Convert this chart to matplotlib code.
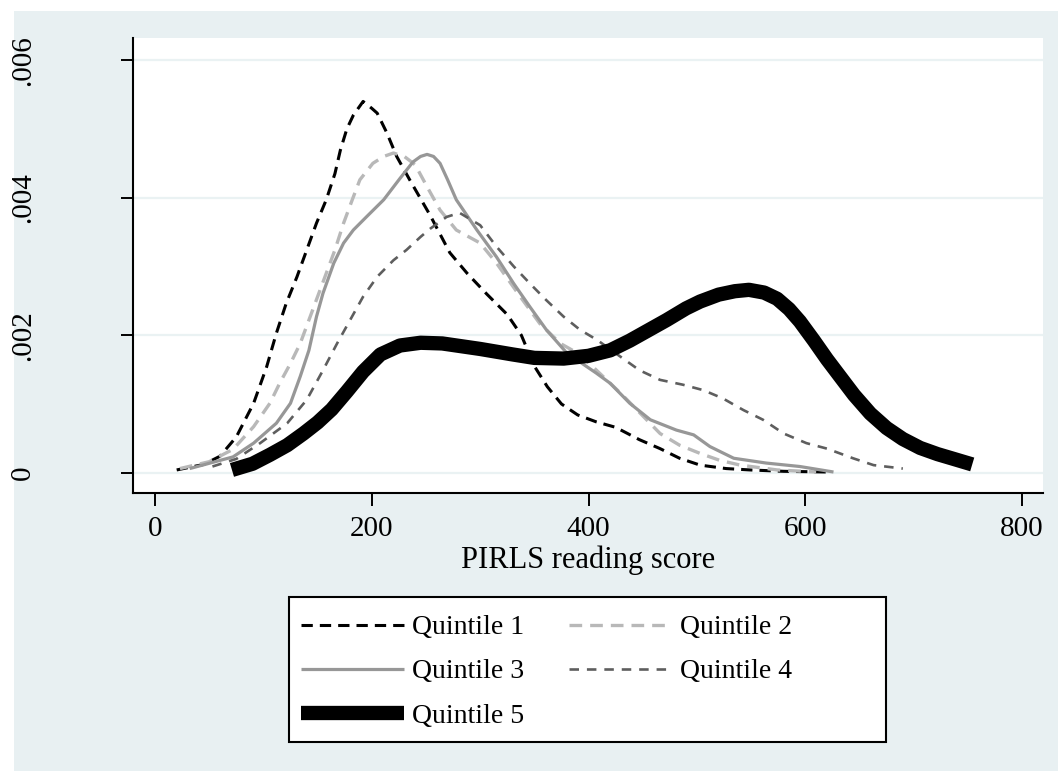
import matplotlib
matplotlib.use("Agg")
import matplotlib.pyplot as plt
from matplotlib.patches import Rectangle
from matplotlib.lines import Line2D

# ---------------- data ----------------
q1_x = [20, 45, 60, 75, 91, 103, 112, 121, 131, 140, 149, 158, 166, 171, 177, 183, 192,
        200, 205, 214, 223, 235, 254, 272, 288, 306, 325, 338, 350, 362, 375, 390, 407,
        425, 447, 466, 484, 503, 527, 549, 580, 620]
q1_y = [0.00004, 0.00012, 0.00024, 0.00052, 0.00101, 0.00154, 0.00203, 0.00246, 0.00285,
        0.00324, 0.00363, 0.00397, 0.00435, 0.00469, 0.0050, 0.0052, 0.0054, 0.0053,
        0.00523, 0.00494, 0.0046, 0.00426, 0.00374, 0.0032, 0.0029, 0.0026, 0.0023,
        0.0020, 0.00155, 0.00125, 0.0010, 0.00084, 0.00074, 0.00066, 0.00048, 0.00035,
        0.00021, 0.00011, 0.00006, 0.00004, 0.00002, 0.00001]

q2_x = [23, 50, 72, 91, 106, 115, 125, 134, 150, 166, 174, 182, 189, 201, 211, 220, 230,
        240, 251, 263, 278, 300, 315, 337, 355, 374, 392, 410, 430, 448, 466, 484, 503,
        521, 540, 574, 610]
q2_y = [0.00006, 0.00016, 0.00034, 0.00067, 0.00101, 0.0013, 0.00159, 0.00188, 0.00256,
        0.00324, 0.00363, 0.00397, 0.00426, 0.0045, 0.0046, 0.00465, 0.0046, 0.00448,
        0.00416, 0.00382, 0.00353, 0.00334, 0.00305, 0.00256, 0.00217, 0.00188, 0.00172,
        0.00145, 0.00115, 0.00086, 0.00057, 0.0004, 0.00028, 0.00018, 0.00011, 0.00004,
        0.00001]

q3_x = [32, 72, 91, 112, 125, 134, 142, 149, 155, 165, 174, 183, 195, 211, 226, 238, 245,
        251, 257, 263, 270, 278, 297, 315, 331, 346, 361, 380, 407, 420, 438, 457, 481,
        497, 512, 534, 564, 595, 626]
q3_y = [0.00006, 0.00023, 0.00043, 0.00072, 0.00101, 0.0014, 0.00178, 0.00227, 0.00261,
        0.00305, 0.00334, 0.00353, 0.00372, 0.00397, 0.00428, 0.00452, 0.0046, 0.00463,
        0.0046, 0.0045, 0.00426, 0.00397, 0.00353, 0.00314, 0.00275, 0.00241, 0.00208,
        0.00174, 0.00145, 0.0013, 0.00101, 0.00077, 0.00062, 0.00055, 0.00038, 0.00021,
        0.00014, 0.00009, 0.00001]

q4_x = [53, 75, 97, 122, 140, 155, 168, 180, 192, 205, 220, 232, 245, 254, 269, 281, 300,
        315, 331, 346, 361, 377, 392, 408, 423, 447, 466, 487, 506, 524, 543, 561, 580,
        601, 620, 644, 663, 690]
q4_y = [0.00009, 0.0002, 0.00043, 0.00072, 0.00106, 0.00149, 0.00188, 0.00222, 0.00256,
        0.00285, 0.00309, 0.00324, 0.00343, 0.00355, 0.00372, 0.00378, 0.0036, 0.00329,
        0.0030, 0.00275, 0.00251, 0.00227, 0.00208, 0.00193, 0.00176, 0.00149, 0.00135,
        0.00128, 0.0012, 0.00108, 0.00091, 0.00077, 0.00057, 0.00043, 0.00035, 0.00021,
        0.00011, 0.00006]

q5_x = [71, 90, 106, 122, 137, 150, 163, 177, 192, 208, 226, 245, 265, 300, 330, 350, 377,
        400, 420, 438, 455, 472, 490, 503, 520, 535, 548, 562, 574, 585, 595, 608, 620,
        632, 645, 660, 675, 690, 706, 722, 737, 754]
q5_y = [0.00004, 0.00013, 0.00026, 0.0004, 0.00057, 0.00073, 0.00092, 0.00118, 0.00147,
        0.00172, 0.00185, 0.00189, 0.00188, 0.0018, 0.00172, 0.00167, 0.00166, 0.0017,
        0.00178, 0.00192, 0.00207, 0.00222, 0.00239, 0.00249, 0.00259, 0.00264, 0.00266,
        0.00262, 0.00253, 0.00238, 0.0022, 0.00192, 0.00165, 0.0014, 0.00113, 0.00086,
        0.00065, 0.00049, 0.00036, 0.00027, 0.0002, 0.00012]

labels = ["Quintile 1", "Quintile 2", "Quintile 3", "Quintile 4", "Quintile 5"]
x_ticks = [0, 200, 400, 600, 800]
y_ticks = [0, 0.002, 0.004, 0.006]
y_tick_labels = ["0", ".002", ".004", ".006"]
x_title = "PIRLS reading score"

# ---------------- styles ----------------
styles = [
    dict(color="black", lw=2.2, dashes=(3.7, 2.3), dash_capstyle="butt"),
    dict(color="#B8B8B8", lw=2.4, dashes=(3.8, 2.4), dash_capstyle="butt"),
    dict(color="#979797", lw=2.3, solid_capstyle="butt", solid_joinstyle="round"),
    dict(color="#5E5E5E", lw=1.9, dashes=(3.6, 3.0), dash_capstyle="butt"),
    dict(color="black", lw=10.3, solid_capstyle="butt", solid_joinstyle="round"),
]

W, H, DPI = 1058, 771, 100
plt.rcParams["font.family"] = ["Liberation Serif", "DejaVu Serif"]
fig = plt.figure(figsize=(W / DPI, H / DPI), dpi=DPI, facecolor="white")

BG = "#E8F0F2"
fig.patches.append(Rectangle((14 / W, 0), 1 - 14 / W, (H - 11) / H,
                             transform=fig.transFigure, facecolor=BG,
                             edgecolor="none", zorder=-10))

ax = fig.add_axes([133 / W, (H - 492.7) / H, (1043 - 133) / W, (492.7 - 38) / H])
ax.set_zorder(0)
ax.set_facecolor("white")
ax.set_xlim(-20.3, 819.3)
ax.set_ylim(-0.000291, 0.006323)

for s in ["top", "right"]:
    ax.spines[s].set_visible(False)
for s in ["left", "bottom"]:
    ax.spines[s].set_linewidth(1.5)
    ax.spines[s].set_color("black")

ax.set_xticks(x_ticks)
ax.set_xticklabels([str(v) for v in x_ticks])
ax.set_yticks(y_ticks)
ax.set_yticklabels(y_tick_labels, rotation=90, va="center")
ax.tick_params(axis="x", length=9.5, width=1.4, labelsize=21, pad=7)
ax.tick_params(axis="y", length=9, width=1.4, labelsize=21, pad=61)
ax.yaxis.grid(True, color="#EAF2F3", linewidth=1.6)
ax.set_axisbelow(True)
ax.set_xlabel(x_title, fontsize=22, labelpad=3)

series = [(q1_x, q1_y), (q2_x, q2_y), (q3_x, q3_y), (q4_x, q4_y), (q5_x, q5_y)]
for (xs, ys), st in zip(series, styles):
    ax.plot(xs, ys, **st)

# legend frame
fig.patches.append(Rectangle((289 / W, (H - 742) / H), (886 - 289) / W, (742 - 597) / H,
                             transform=fig.transFigure, facecolor="white",
                             edgecolor="black", linewidth=1.5, zorder=1))

order = [0, 2, 4, 1, 3]
h_leg = [Line2D([], [], **styles[i]) for i in order]
leg = fig.legend(h_leg, [labels[i] for i in order], ncol=2, frameon=False,
                 loc="upper left", bbox_to_anchor=(301 / W, (H - 615) / H),
                 fontsize=20, handlelength=3.7, handletextpad=0.3,
                 columnspacing=1.6, labelspacing=0.67, borderpad=0.0,
                 borderaxespad=0.0)
leg.set_zorder(2)

fig.savefig("out.png", dpi=DPI, facecolor="white")
